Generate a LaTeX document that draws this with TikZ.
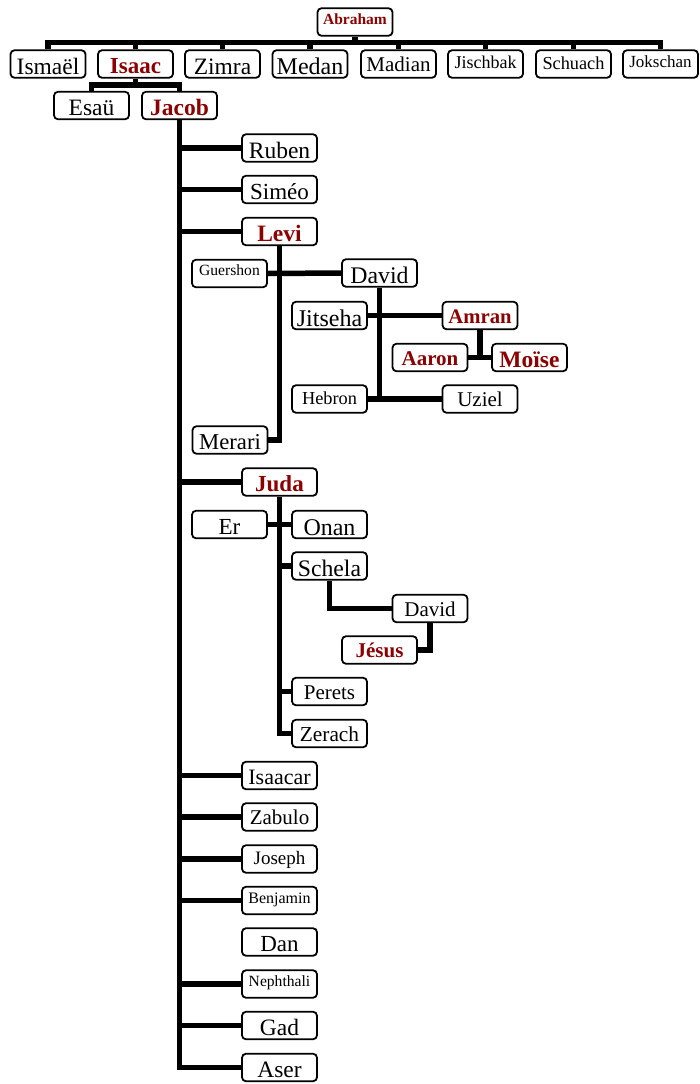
\documentclass[tikz,border=0pt]{standalone}
\usepackage{fontspec}
\setmainfont{Liberation Serif}
\definecolor{kred}{RGB}{139,0,0}
\tikzset{
 person/.style={draw, line width=1.8pt, rounded corners=4pt, minimum width=75pt, minimum height=27.5pt, inner sep=0pt, fill=white, align=center},
 key/.style={text=kred, execute at begin node=\bfseries},
 sz/.code={\pgfmathsetmacro\mytxth{2.06*#1-27.5}\edef\mytmp{\noexpand\tikzset{font=\noexpand\fontsize{#1pt}{#1pt}\noexpand\selectfont, text height=\mytxth pt, text depth=0pt}}\mytmp},
 link/.style={line width=5.5pt, line join=miter, line cap=butt},
}
\begin{document}
\begin{tikzpicture}[x=1pt,y=-1pt]
\useasboundingbox (0,0) rectangle (700,1084);
% generation 1
\node[person,key,sz=15.5] (abraham) at (355,22) {Abraham};
% generation 2
\node[person,sz=23.5] (ismael) at (48,64) {Ismaël};
\node[person,key,sz=23] (isaac) at (135.5,64) {Isaac};
\node[person,sz=23.5] (zimra) at (222.5,64) {Zimra};
\node[person,sz=24] (medan) at (310,64) {Medan};
\node[person,sz=21] (madian) at (398.5,64) {Madian};
\node[person,sz=18] (jischbak) at (485.5,64) {Jischbak};
\node[person,sz=18.3] (schuach) at (573.5,64) {Schuach};
\node[person,sz=17] (jokschan) at (660.5,64) {Jokschan};
% generation 3
\node[person,sz=23.5] (esau) at (91.5,105.5) {Esaü};
\node[person,key,sz=23.5] (jacob) at (179.5,105.5) {Jacob};
% sons of Jacob
\node[person,sz=23.5] (ruben) at (279.5,148) {Ruben};
\node[person,sz=23] (simeo) at (279.5,189.5) {Siméo};
\node[person,key,sz=23.5] (levi) at (279.5,231.5) {Levi};
\node[person,key,sz=23] (juda) at (279.5,482) {Juda};
\node[person,sz=22] (isaacar) at (279.5,775.5) {Isaacar};
\node[person,sz=21] (zabulo) at (279.5,817) {Zabulo};
\node[person,sz=19] (joseph) at (279.5,859) {Joseph};
\node[person,sz=16] (benjamin) at (279.5,900.5) {Benjamin};
\node[person,sz=23] (dan) at (279.5,942) {Dan};
\node[person,sz=15.6] (nephthali) at (279.5,984) {Nephthali};
\node[person,sz=23.5] (gad) at (279.5,1025.5) {Gad};
\node[person,sz=23.5] (aser) at (279.5,1067.5) {Aser};
% Levi branch
\node[person,sz=15.6] (guershon) at (229.5,273.5) {Guershon};
\node[person,sz=23.8] (davidl) at (379.5,273) {David};
\node[person,sz=24] (jitseha) at (329.5,315.5) {Jitseha};
\node[person,key,sz=20.7] (amran) at (480,315.5) {Amran};
\node[person,key,sz=21] (aaron) at (430,357.5) {Aaron};
\node[person,key,sz=23.5] (moise) at (529.5,357.5) {Moïse};
\node[person,sz=18.3] (hebron) at (329.5,399) {Hebron};
\node[person,sz=21] (uziel) at (480,399) {Uziel};
\node[person,sz=22.7] (merari) at (230,440) {Merari};
% Juda branch
\node[person,sz=23] (er) at (229.5,524.5) {Er};
\node[person,sz=24] (onan) at (329.5,524.5) {Onan};
\node[person,sz=23.7] (schela) at (329.5,566) {Schela};
\node[person,sz=21] (davidj) at (430,608.5) {David};
\node[person,key,sz=21] (jesus) at (379.5,650) {Jésus};
\node[person,sz=21] (perets) at (329.5,691.5) {Perets};
\node[person,sz=21.3] (zerach) at (329.5,733.5) {Zerach};
% bars
\coordinate (bar1) at (355,42.5);
\coordinate (bar2) at (135.5,85);
% connectors
\draw[link] (abraham.south) -- (bar1);
\draw[link] (ismael.north) -- (ismael.north |- bar1) -- (jokschan.north |- bar1) -- (jokschan.north);
\foreach \n in {isaac,zimra,medan,madian,jischbak,schuach} \draw[link] (\n.north) -- (\n.north |- bar1);
\draw[link] (isaac.south) -- (bar2);
\draw[link] (esau.north) -- (esau.north |- bar2) -- (jacob.north |- bar2) -- (jacob.north);
\draw[link] (jacob.south) |- (aser.west);
\foreach \n in {ruben,simeo,levi,juda,isaacar,zabulo,joseph,benjamin,nephthali,gad} \draw[link] (jacob.south |- \n.west) -- (\n.west);
\draw[link] (levi.south) |- (merari.east);
\draw[link] (guershon.east) -- (davidl.west);
\draw[link] (davidl.south) -- (davidl.south |- hebron.east);
\draw[link] (jitseha.east) -- (amran.west);
\draw[link] (hebron.east) -- (uziel.west);
\draw[link] (amran.south) -- (amran.south |- aaron.east);
\draw[link] (aaron.east) -- (moise.west);
\draw[link] (juda.south) |- (zerach.west);
\draw[link] (er.east) -- (onan.west);
\foreach \n in {schela,perets} \draw[link] (juda.south |- \n.west) -- (\n.west);
\draw[link] (schela.south) |- (davidj.west);
\draw[link] (davidj.south) |- (jesus.east);
\end{tikzpicture}
\end{document}
